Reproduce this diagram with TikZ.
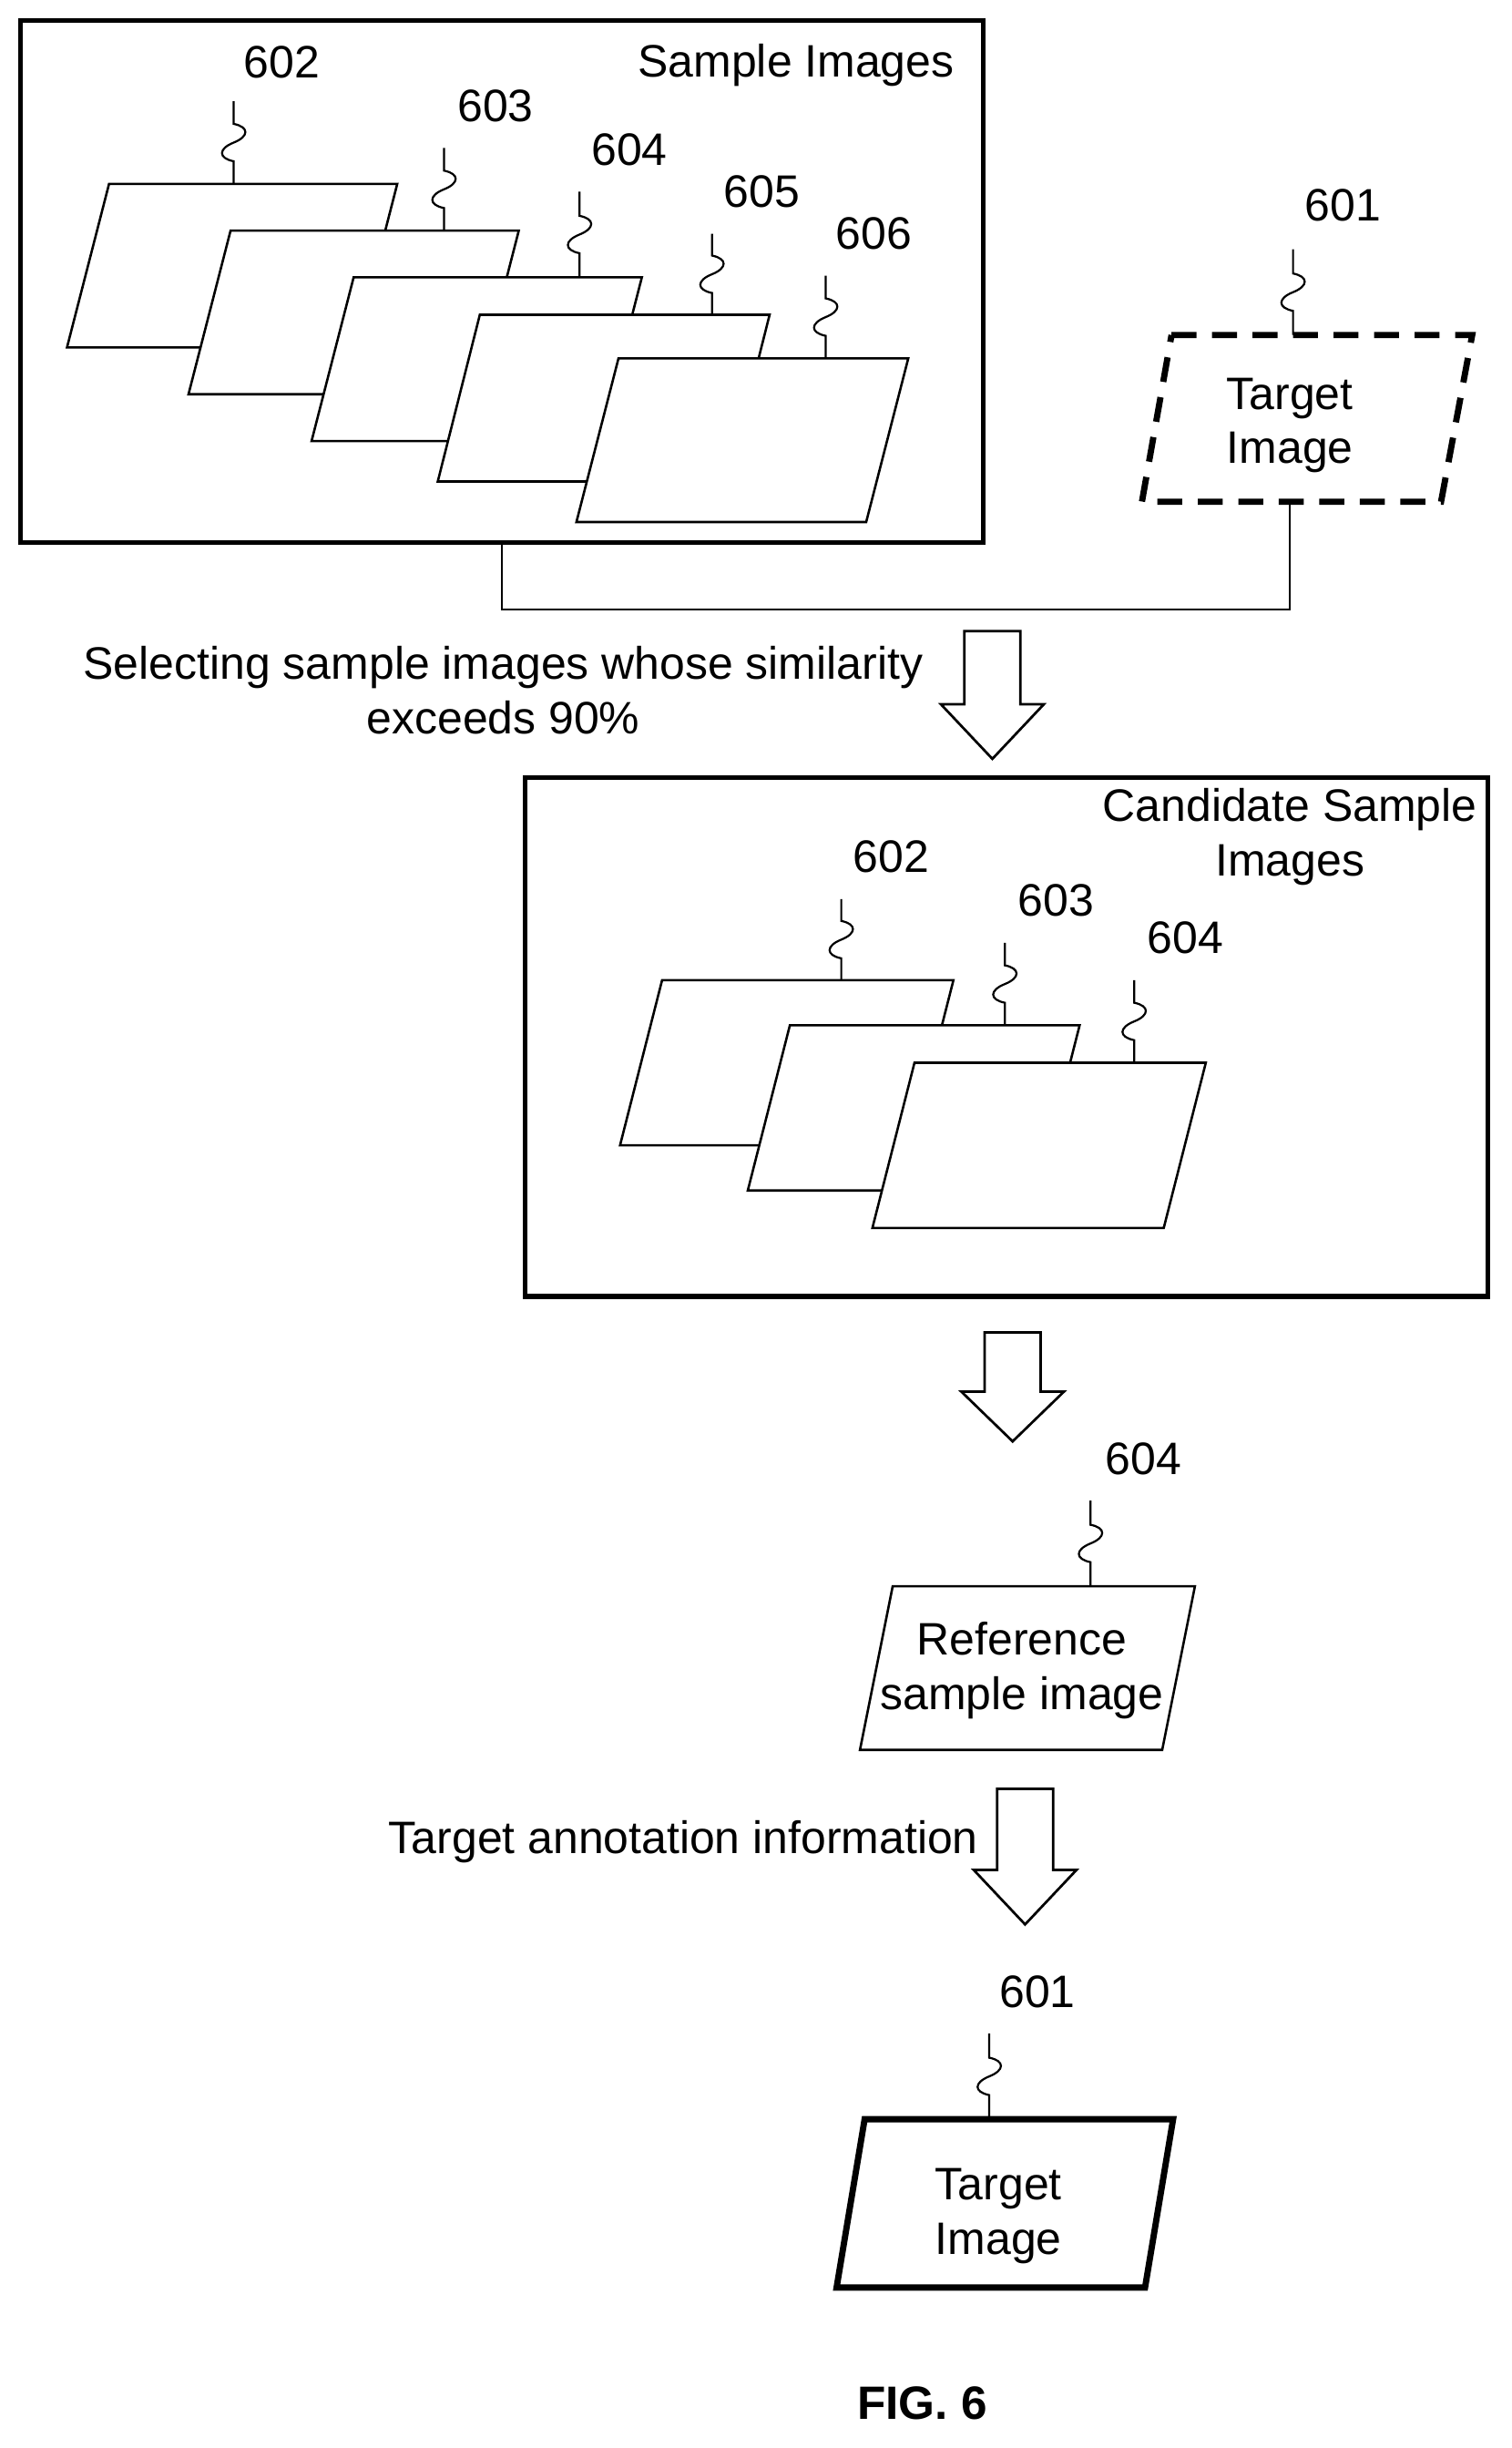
\documentclass[tikz,border=0pt]{standalone}
\usepackage{fontspec}
\setmainfont{Liberation Sans}
\begin{document}
\begin{tikzpicture}[x=1pt,y=-1pt,
  lab/.style={font=\fontsize{29.2}{35}\selectfont, inner sep=0pt, align=center},
  pg/.style={line width=1.5pt, fill=white, line join=miter},
  box/.style={line width=3pt},
  sq/.style={line width=1.3pt},
  barrow/.style={line width=1.6pt, fill=white, line join=miter}]
\useasboundingbox (0,0) rectangle (970,1571);
\newcommand{\pgram}[5]{% name, x top-left, y top, width, height
  \draw[#1] (#2,#3) -- ++(#4,0) -- ++(-27,#5) -- ++(-#4,0) -- cycle;}
\newcommand{\squig}[3]{% x, ybottom, ytop
  \draw[sq] (#1,#2) -- (#1,{(#2+#3)/2+12}) .. controls +(-10,-2) and +(-10,4) .. (#1,{(#2+#3)/2})
    .. controls +(10,-4) and +(10,2) .. (#1,{(#2+#3)/2-12}) -- (#1,#3);}
% Sample images box
\draw[box] (13,13) rectangle (631,348);
\node[lab] (t1) at (511,42) {Sample Images};
\pgram{pg}{70}{118}{185}{105}
\pgram{pg}{148}{148}{185}{105}
\pgram{pg}{227}{178}{185}{105}
\pgram{pg}{308}{202}{186}{107}
\pgram{pg}{397}{230}{186}{105}
\squig{150}{118}{65}\node[lab] (n602) at (181,40) {602};
\squig{285}{148}{95}\node[lab] (n603) at (318,68) {603};
\squig{372}{178}{123}\node[lab] (n604) at (404,96) {604};
\squig{457}{202}{150}\node[lab] (n605) at (489,123) {605};
\squig{530}{230}{177}\node[lab] (n606) at (561,150) {606};
% target dashed
\draw[line width=4pt, dash pattern=on 16pt off 10pt, line join=miter] (752,215) -- (945,215) -- (925,322) -- (733,322) -- cycle;
\node[lab] (tgt) at (828,273) {Target\\Image};
\squig{830}{215}{160}\node[lab] (n601) at (862,132) {601};
% connector
\coordinate (c1) at (322,348); \coordinate (c2) at (828,322);
\draw[line width=1.3pt] (c1) -- (322,391) -- (828,391) -- (c2);
% block arrow 1
\newcommand{\barr}[4]{% xc, top, headstart, tip
  \draw[barrow] (#1-18,#2) -- (#1+18,#2) -- (#1+18,#3) -- (#1+33,#3) -- (#1,#4) -- (#1-33,#3) -- (#1-18,#3) -- cycle;}
\barr{637}{405}{452}{487}
\node[lab] (sel) at (323,443) {Selecting sample images whose similarity\\exceeds 90\%};
% candidate box
\draw[box] (337,499) rectangle (955,832);
\node[lab] (t2) at (828,537) {Candidate Sample\\Images};
\pgram{pg}{425}{629}{187}{106}
\pgram{pg}{507}{658}{186}{106}
\pgram{pg}{587}{682}{187}{106}
\squig{540}{629}{577}\node[lab] (m602) at (572,550) {602};
\squig{645}{658}{605}\node[lab] (m603) at (678,578) {603};
\squig{728}{682}{629}\node[lab] (m604) at (761,602) {604};
% arrow 2
\barr{650}{855}{893}{925}
\squig{700}{1018}{963}\node[lab] (r604) at (734,936) {604};
\draw[pg] (573,1018) -- (767,1018) -- (746,1123) -- (552,1123) -- cycle;
\node[lab] (ref) at (656,1072) {Reference\\sample image};
% arrow 3
\barr{658}{1148}{1200}{1235}
\node[lab, anchor=east] (ann) at (628,1182) {Target annotation information};
\squig{635}{1360}{1305}\node[lab] (f601) at (666,1278) {601};
\draw[line width=4pt, line join=miter] (555,1360) -- (753,1360) -- (735,1468) -- (537,1468) -- cycle;
\node[lab] (tgt2) at (641,1422) {Target\\Image};
\node[lab, font=\fontsize{30}{36}\selectfont\bfseries] (fig) at (592,1542) {FIG. 6};
\end{tikzpicture}
\end{document}
